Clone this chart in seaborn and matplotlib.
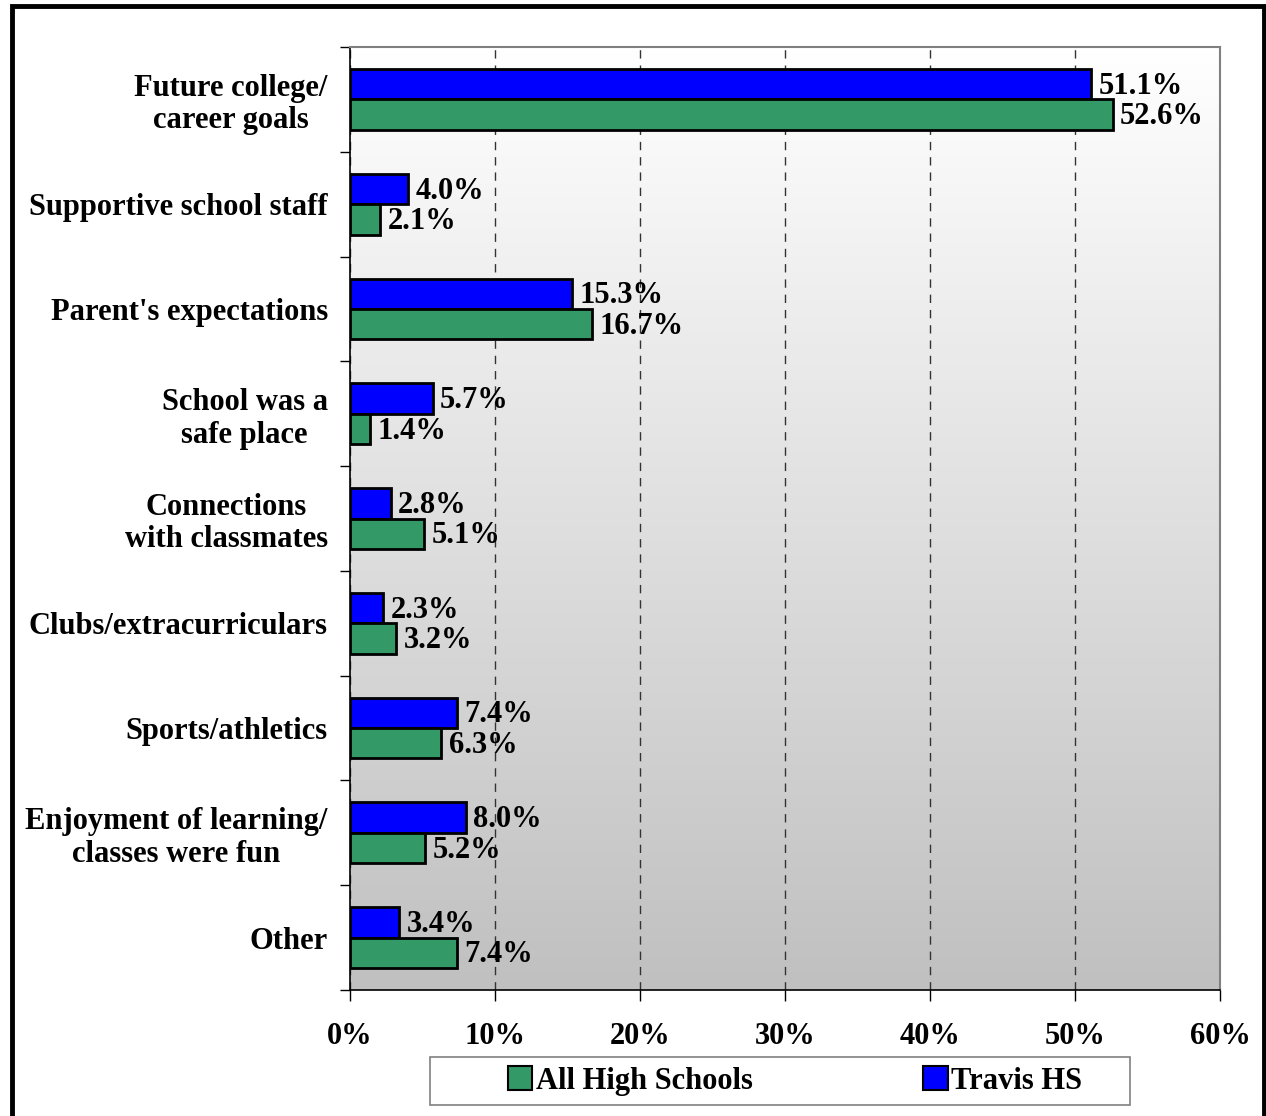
import numpy as np
import pandas as pd
import matplotlib
matplotlib.use("Agg")
import matplotlib.pyplot as plt
import seaborn as sns
from matplotlib.patches import Patch, Rectangle
from matplotlib.colors import LinearSegmentedColormap

categories = ["Future college/\ncareer goals", "Supportive school staff", "Parent's expectations",
              "School was a\nsafe place", "Connections\nwith classmates", "Clubs/extracurriculars",
              "Sports/athletics", "Enjoyment of learning/\nclasses were fun", "Other"]
travis = [51.1, 4.0, 15.3, 5.7, 2.8, 2.3, 7.4, 8.0, 3.4]
all_hs = [52.6, 2.1, 16.7, 1.4, 5.1, 3.2, 6.3, 5.2, 7.4]
series = ["Travis HS", "All High Schools"]
xticks = [0, 10, 20, 30, 40, 50, 60]

df = pd.DataFrame({
    "category": categories * 2,
    "value": travis + all_hs,
    "series": ["Travis HS"] * len(categories) + ["All High Schools"] * len(categories),
})

sns.set_style("white", {"xtick.bottom": True, "ytick.left": True})
plt.rcParams['font.family'] = ['Liberation Serif', 'DejaVu Serif']
plt.rcParams['font.weight'] = 'bold'
plt.rcParams['text.color'] = 'black'
plt.rcParams['xtick.color'] = 'black'
plt.rcParams['ytick.color'] = 'black'
plt.rcParams['xtick.labelcolor'] = 'black'
plt.rcParams['ytick.labelcolor'] = 'black'

FS = 22

fig = plt.figure(figsize=(12.66, 11.16), dpi=100)
ax = fig.add_axes([350/1266, 1 - 990/1116, 870/1266, (990 - 47)/1116])

colors = {"Travis HS": "#0000ff", "All High Schools": "#339966"}
sns.barplot(data=df, y="category", x="value", hue="series", hue_order=series,
            palette=colors, saturation=1, orient="h", width=0.58, edgecolor="black",
            linewidth=2, ax=ax, legend=False, zorder=3)

ax.set_xlim(0, 60)
n = len(categories)
ax.set_ylim(n - 0.5, -0.5)

grad = np.linspace(0, 1, 256).reshape(-1, 1)
cmap = LinearSegmentedColormap.from_list("bg", ["#ffffff", "#c0c0c0"])
ax.imshow(grad, cmap=cmap, aspect="auto", extent=[0, 60, n - 0.5, -0.5], zorder=0)

ax.xaxis.grid(True, linestyle=(0, (6, 5)), color="#333333", linewidth=1)
for l in ax.get_xgridlines():
    l.set_zorder(1)

for cont in ax.containers:
    for bar in cont:
        w = bar.get_width()
        y = bar.get_y() + bar.get_height() / 2 + 0.02
        ax.text(w + 0.5, y, f"{w:.1f}%", va="center", ha="left", fontsize=FS,
                fontweight="bold", color="black", zorder=4)

ax.set_xticks(xticks)
ax.set_xticklabels([f"{t}%" for t in xticks], fontsize=FS, fontweight="bold")
ax.set_yticks(range(n))
ax.set_yticklabels(categories, fontsize=FS, fontweight="bold", linespacing=1.15)
for t in ax.get_yticklabels():
    t.set_multialignment("center")
ax.set_yticks(np.arange(-0.5, n, 1), minor=True)
ax.tick_params(axis="y", which="major", length=0, pad=16)
ax.tick_params(axis="y", which="minor", left=True, length=7, width=1, color="black", direction="out")
ax.tick_params(axis="x", which="major", bottom=True, length=8, width=1, color="black",
               direction="out", pad=15)
ax.set_xlabel("")
ax.set_ylabel("")

for s in ["left", "bottom"]:
    ax.spines[s].set_color("black")
    ax.spines[s].set_linewidth(1.2)
for s in ["top", "right"]:
    ax.spines[s].set_color("#808080")
    ax.spines[s].set_linewidth(1.5)
for s in ax.spines.values():
    s.set_zorder(5)

handles = [Patch(facecolor=colors["All High Schools"], edgecolor="black", linewidth=1.5),
           Patch(facecolor=colors["Travis HS"], edgecolor="black", linewidth=1.5)]
leg = fig.legend(handles, ["All High Schools", "Travis HS"], ncol=2,
                 loc="center", bbox_to_anchor=(795/1266, 1 - 1081/1116),
                 prop={"family": "Liberation Serif", "weight": "bold", "size": FS},
                 frameon=False, columnspacing=5.6,
                 handlelength=0.8, handleheight=0.8, handletextpad=0.1,
                 borderpad=0.3, borderaxespad=0)
for t in leg.get_texts():
    t.set_color("black")

fig.patches.append(Rectangle((430/1266, 1 - 1105/1116), 700/1266, 48/1116,
                             transform=fig.transFigure, fill=False,
                             edgecolor="#808080", linewidth=1.2))
fig.patches.append(Rectangle((11.5/1266, -0.05), 1252/1266, 1 - 6/1116 + 0.05,
                             transform=fig.transFigure, fill=False,
                             edgecolor="black", linewidth=3.5))

fig.savefig("out.png", dpi=100)
